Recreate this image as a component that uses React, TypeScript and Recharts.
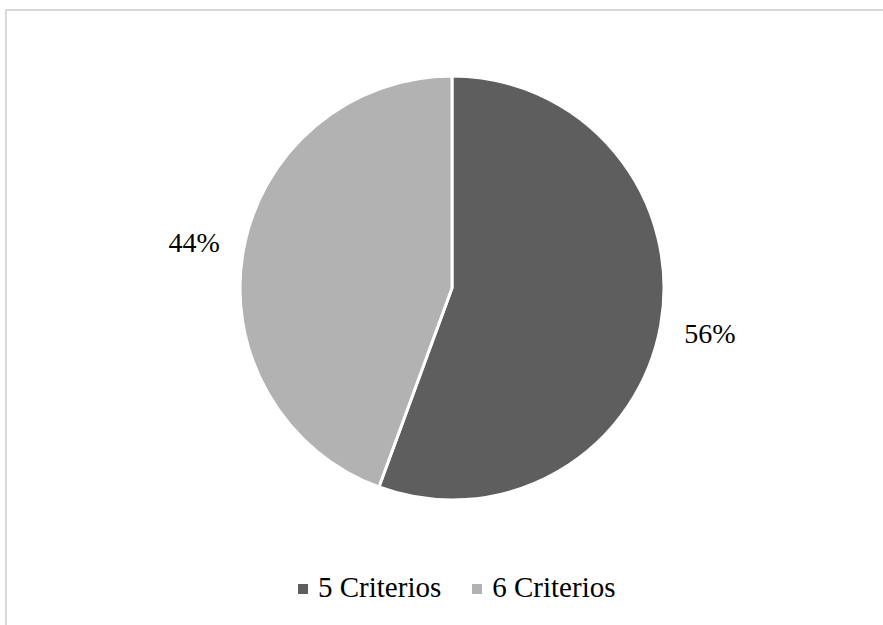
import React from 'react';
import { PieChart, Pie, Cell, Legend } from 'recharts';

const categories = ['5 Criterios', '6 Criterios'];
const shares = [55.6, 44.4];
const colors = ['#5e5e5e', '#b2b2b2'];

const data = categories.map((name, i) => ({ name, value: shares[i] }));
const RADIAN = Math.PI / 180;
const FONT = '"Liberation Serif", "Times New Roman", serif';

const renderLabel = (props: any) => {
  const { cx, cy, midAngle, outerRadius, value } = props;
  const r = outerRadius + 50;
  const x = cx + r * Math.cos(-midAngle * RADIAN);
  const y = cy + r * Math.sin(-midAngle * RADIAN);
  return (
    <text x={x} y={y} textAnchor="middle" dominantBaseline="central" fontFamily={FONT} fontSize={28} fill="#000">
      {`${Math.round(value)}%`}
    </text>
  );
};

const renderLegend = () => (
  <div style={{ display: 'flex', alignItems: 'center', fontFamily: FONT, fontSize: 29, color: '#000', lineHeight: '32px' }}>
    {categories.map((c, i) => (
      <div key={c} style={{ display: 'flex', alignItems: 'center', marginRight: i === 0 ? 31 : 0 }}>
        <span style={{ display: 'inline-block', width: 10, height: 10, background: colors[i], marginRight: 10, marginTop: 4 }} />
        <span>{c}</span>
      </div>
    ))}
  </div>
);

export default function App() {
  return (
    <div style={{ position: 'absolute', left: 0, top: 0, width: 883, height: 625, overflow: 'hidden', background: '#fff' }}>
      <div style={{ position: 'absolute', left: 5, top: 9, width: 900, height: 700, border: '2px solid #d9d9d9', boxSizing: 'border-box' }} />
      <div style={{ position: 'absolute', left: 0, top: 0 }}>
        <PieChart width={883} height={625}>
          <Pie
            data={data}
            dataKey="value"
            nameKey="name"
            cx={447}
            cy={283}
            outerRadius={212}
            startAngle={90}
            endAngle={-270}
            stroke="#ffffff"
            strokeWidth={3}
            label={renderLabel}
            labelLine={false}
            isAnimationActive={false}
          >
            {data.map((d, i) => (
              <Cell key={d.name} fill={colors[i]} />
            ))}
          </Pie>
          <Legend content={renderLegend} wrapperStyle={{ position: 'absolute', left: 298, top: 571, width: 'auto' }} />
        </PieChart>
      </div>
    </div>
  );
}
